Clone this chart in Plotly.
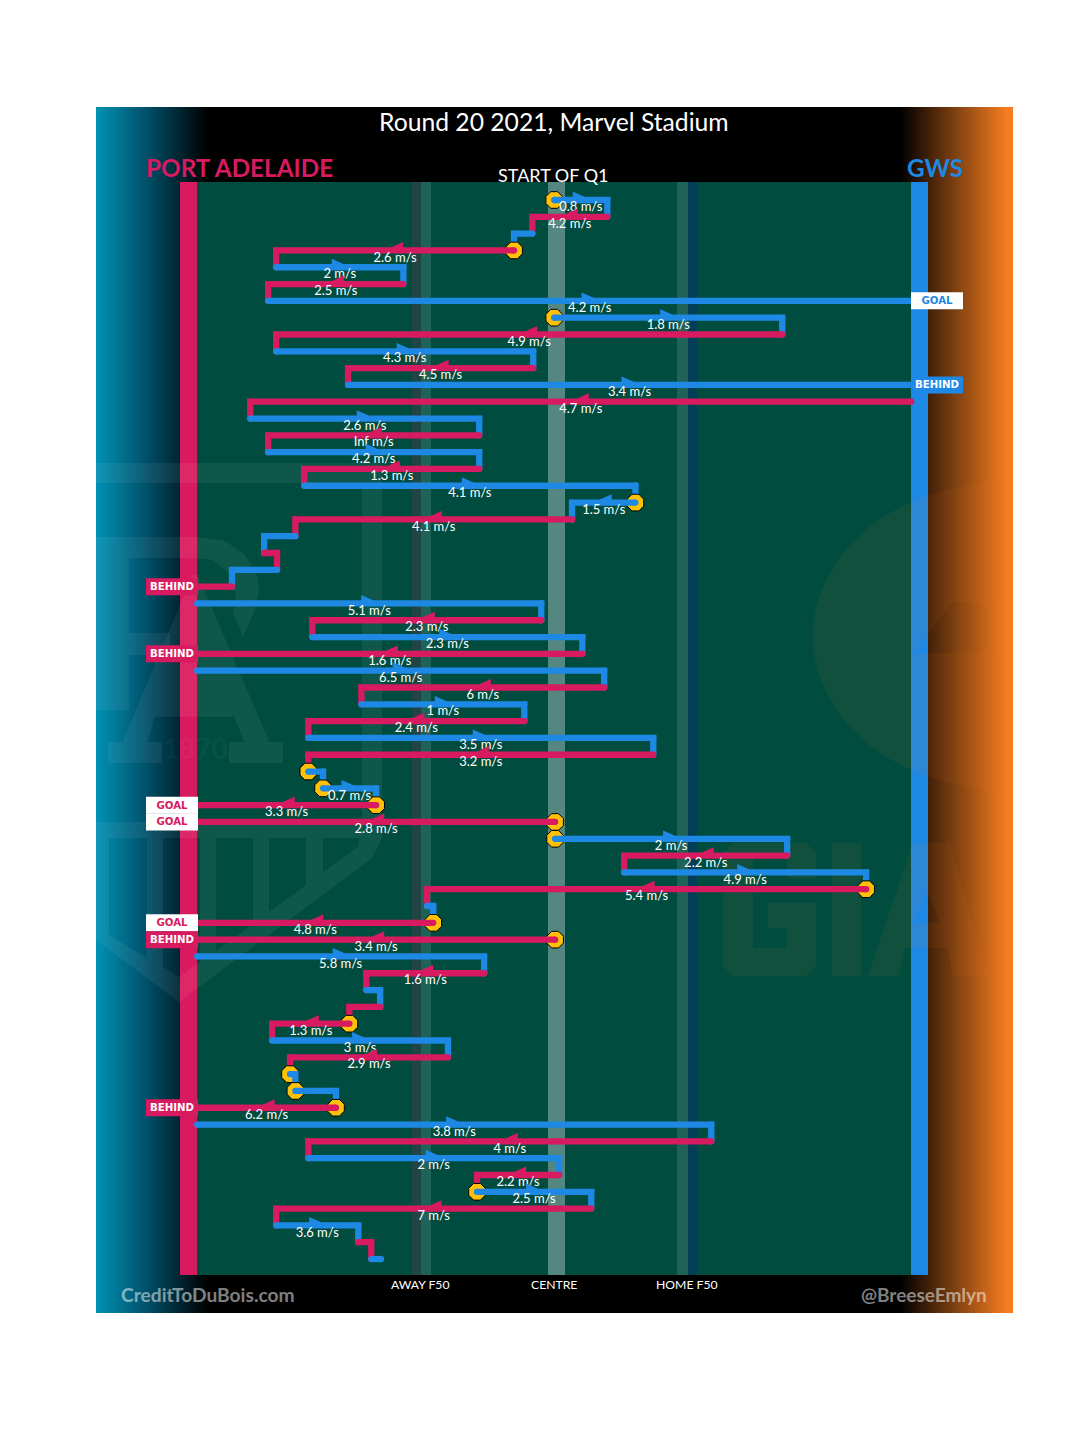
import numpy as np
import plotly.graph_objects as go

# ---- chain of play, one entry per row (x in metres from centre; + = GWS goal end)
row_team = ["GWS","PA","GWS","PA","GWS","PA","GWS","GWS","PA","GWS",
            "PA","GWS","PA","GWS","PA","GWS","PA","GWS","GWS","PA",
            "GWS","PA","GWS","PA","GWS","PA","GWS","PA","GWS","PA",
            "GWS","PA","GWS","PA","GWS","GWS","PA","PA","GWS","PA",
            "GWS","PA","GWS","PA","PA","GWS","PA","GWS","PA","PA",
            "GWS","PA","GWS","GWS","PA","GWS","PA","GWS","PA","GWS",
            "PA","GWS","PA","GWS"]
row_start = [0,11.9,-4.9,-9.0,-62.3,-33.8,-64.1,0,51.1,-62.3,
             -4.7,-46.2,80,-68.1,-16.8,-64.1,-16.8,-56.0,18.2,4.0,
             -58.0,-65.0,-62.1,-72.2,-80,-2.9,-54.2,6.3,-80,11.2,
             -43.2,-6.7,-55.1,22.2,-55.1,-51.8,-39.9,0.2,0.2,52.2,
             15.7,69.9,-28.5,-27.1,0.2,-80,-15.7,-42.1,-39.0,-45.9,
             -63.2,-23.8,-59.2,-58.0,-48.9,-80,35.2,-55.1,1.1,-17.3,
             8.3,-62.3,-43.9,-41.0]
row_end = [11.9,-4.9,-9.0,-62.3,-33.8,-64.1,80,51.1,-62.3,-4.7,
           -46.2,80,-68.1,-16.8,-64.1,-16.8,-56.0,18.2,4.0,-58.0,
           -65.0,-62.1,-72.2,-80,-2.9,-54.2,6.3,-80,11.2,-43.2,
           -6.7,-55.1,22.2,-55.1,-51.8,-39.9,-80,-80,52.2,15.7,
           69.9,-28.5,-27.1,-80,-80,-15.7,-42.1,-39.0,-45.9,-63.2,
           -23.8,-59.2,-58.0,-48.9,-80,35.2,-55.1,1.1,-17.3,8.3,
           -62.3,-43.9,-41.0,-38.8]
row_speed = ["0.8","4.2",None,"2.6","2","2.5","4.2","1.8","4.9","4.3",
             "4.5","3.4","4.7","2.6","Inf","4.2","1.3","4.1","1.5","4.1",
             None,None,None,None,"5.1","2.3","2.3","1.6","6.5","6",
             "1","2.4","3.5","3.2",None,"0.7","3.3","2.8","2","2.2",
             "4.9","5.4",None,"4.8","3.4","5.8","1.6",None,None,"1.3",
             "3","2.9",None,None,"6.2","3.8","4","2","2.2","2.5",
             "7","3.6",None,None]
row_stop = [0,3,7,18,34,35,36,37,38,41,43,44,49,52,53,54,59]
row_score = {6:"GOAL",11:"BEHIND",23:"BEHIND",27:"BEHIND",36:"GOAL",37:"GOAL",
             43:"GOAL",44:"BEHIND",54:"BEHIND"}
axis_labels = ["AWAY F50","CENTRE","HOME F50"]
axis_label_px = [420,554,687]

PINK, BLUE = "#D81B60", "#1E88E5"
YELLOW = "#FFC107"
team_col = {"PA":PINK,"GWS":BLUE}
FONT = "Lato"
W = "rgba(255,255,255,0.06)"
W2 = "rgba(245,124,32,0.07)"

# pixel helpers used only for the decoration drawn behind the chart
SX, SY = 4.4625, 16.81
X0, Y0 = 554.2, 200
mx = lambda p:(p-X0)/SX
ry = lambda p:(p-Y0)/SY

fig = go.Figure()

# background gradient
gx = np.linspace(mx(96),mx(1013),918)
stops = [(96,"#0091B4"),(146,"#005069"),(208,"#000000"),(900,"#000000"),(1006,"#F57C20"),(1013,"#F57C20")]
cs = [[(p-96)/917,c] for p,c in stops]
fig.add_trace(go.Heatmap(x=gx,y=[ry(107),ry(1313)],z=[gx,gx],colorscale=cs,showscale=False,hoverinfo="skip",
                         zmin=gx[0],zmax=gx[-1]))

def poly(pts,color):
    xs,ys=[],[]
    for ring in pts:
        xs+= [mx(p[0]) for p in ring]+[mx(ring[0][0]),None]
        ys+= [ry(p[1]) for p in ring]+[ry(ring[0][1]),None]
    fig.add_trace(go.Scatter(x=xs[:-1],y=ys[:-1],mode="lines",fill="toself",fillcolor=color,
                             line=dict(width=0,color=color),hoverinfo="skip",showlegend=False))
def rect(x0,x1,y0,y1,color):
    poly([[(x0,y0),(x1,y0),(x1,y1),(x0,y1)]],color)

# field, goal lines, bands
rect(197,911,182,1275,"#004D40")
rect(180,197,182,1275,PINK)
rect(911,928,182,1275,BLUE)
rect(548,565,182,1275,"rgba(255,255,255,0.33)")
rect(412,421,182,1275,"rgba(216,27,96,0.15)")
rect(421,431,182,1275,"rgba(255,255,255,0.12)")
rect(677,688,182,1275,"rgba(255,255,255,0.12)")
rect(688,697,182,1275,"#023E56")

# faint Port Adelaide crest
rect(96,382,463,483,W)
rect(362,382,483,822,W)
poly([[(96,537),(196,537),(225,541),(245,555),(257,575),(259,590),(255,610),(243,637),
       (233,613),(236,593),(229,573),(213,560),(196,558),(129,558),(129,710),(96,710)]],W)
rect(129,170,633,655,W)
ax=lambda z:96+z/3
ay=lambda z:440+z/3
poly([[(ax(80),ay(905)),(ax(290),ay(405)),(ax(305),ay(405)),(ax(520),ay(905)),(ax(445),ay(905)),
       (ax(415),ay(830)),(ax(175),ay(830)),(ax(155),ay(905))],
      [(ax(290),ay(560)),(ax(390),ay(765)),(ax(205),ay(765))]],W)
rect(108,162,742,763,W)
rect(229,283,742,763,W)
fig.add_trace(go.Scatter(x=[mx(195)],y=[ry(752)],mode="text",text=["1870"],hoverinfo="skip",showlegend=False,
    textposition="middle center",textfont=dict(family=FONT,size=28,weight="bold",color="rgba(255,255,255,0.04)")))
poly([[(96,822),(382,822),(382,838),(372,858),(179,1002),(96,940)],
      [(109,838),(109,935),(147,958),(147,838)],
      [(163,838),(163,967),(179,977),(200,962),(200,838)],
      [(216,838),(216,951),(253,924),(253,838)],
      [(269,838),(269,912),(306,885),(306,838)],
      [(323,838),(323,872),(359,846),(359,838)]],W)
# faint GWS crest
a=np.radians(np.linspace(90,270,61))
ell=[(1003+190*np.cos(t),636-153*np.sin(t)) for t in a]
top=[p for p in ell if p[1]<636]
bot=[p for p in ell if p[1]>=636]
poly([top+[(813,636)]+bot+[(1003,653),(914,653),(952,602),(1003,602)]],W2)
poly([[(733,843),(806,843),(816,853),(816,878),(787,878),(787,857),(753,857),(753,948),(787,948),(787,928),
       (768,928),(768,903),(816,903),(816,966),(806,976),(733,976),(723,966),(723,853)]],W2)
rect(832,861,843,976,W2)
poly([[(913,843),(950,843),(987,976),(953,976),(948,948),(905,948),(899,976),(868,976)],
      [(927,890),(913,923),(940,923)]],W2)

# play chain
n=len(row_team)
for i in range(n):
    c=team_col[row_team[i]]
    s,e=row_start[i],row_end[i]
    if i in row_stop:
        fig.add_trace(go.Scatter(x=[s],y=[i],mode="markers",hoverinfo="skip",showlegend=False,
            marker=dict(symbol="octagon",size=18,color=YELLOW,line=dict(color="black",width=1))))
    xs,ys=[s,e],[i,i]
    if i<n-1 and i not in row_score:
        xs.append(e);ys.append(i+1)
    fig.add_trace(go.Scatter(x=xs,y=ys,mode="lines+markers",hoverinfo="skip",showlegend=False,
        line=dict(color=c,width=6.3),marker=dict(color=c,size=6.3,line=dict(width=0))))
    if row_speed[i] is not None:
        m=(s+e)/2
        d=1 if e>s else -1
        fig.add_trace(go.Scatter(x=[m-d*1.8,m+d*2.0,m-d*1.8,m-d*1.8],y=[i-.5,i-.05,i,i-.5],mode="lines",fill="toself",
            fillcolor=c,line=dict(width=0,color=c),hoverinfo="skip",showlegend=False))
        fig.add_trace(go.Scatter(x=[m],y=[i+.47],mode="text",text=[row_speed[i]+" m/s"],hoverinfo="skip",showlegend=False,
            textposition="middle center",textfont=dict(family=FONT,size=13,color="white")))

# score tags
for i,lab in row_score.items():
    team=row_team[i]
    c=team_col[team]
    x0,x1=(146,198) if team=="PA" else (911,963)
    y=Y0+i*SY
    rect(x0,x1,y-8.5,y+8.5,"white" if lab=="GOAL" else c)
    fig.add_trace(go.Scatter(x=[mx((x0+x1)/2)],y=[i+.05],mode="text",text=[lab],hoverinfo="skip",showlegend=False,
        textposition="middle center",textfont=dict(family="DejaVu Sans",size=10.2,weight="bold",color=c if lab=="GOAL" else "white")))

def note(px,py,text,size,color,weight="normal",family=FONT,anchor="center"):
    fig.add_annotation(x=mx(px),y=ry(py),text=text,showarrow=False,xanchor=anchor,yanchor="middle",
        font=dict(family=family,size=size,color=color,weight=weight))

note(553.5,121,"Round 20 2021, Marvel Stadium",24.7,"white")
note(553,175,"START OF Q1",18,"white")
note(144,167,"PORT ADELAIDE",24.3,PINK,weight="bold",anchor="left")
note(965,167,"GWS",24.3,BLUE,weight="bold",anchor="right")
for lab,x in zip(axis_labels,axis_label_px):
    note(x,1284,lab,12.2,"white")
note(119,1294,"CreditToDuBois.com",19.2,"rgba(255,255,255,0.5)",weight="bold",anchor="left")
note(989,1294,"@BreeseEmlyn",19,"rgba(255,255,255,0.5)",weight="bold",anchor="right")

fig.update_layout(width=1064,height=1419,autosize=False,showlegend=False,
    margin=dict(l=88,r=59,t=99,b=114,pad=0),paper_bgcolor="white",plot_bgcolor="black",
    xaxis=dict(range=[mx(96),mx(1013)],visible=False,fixedrange=True),
    yaxis=dict(range=[ry(1313),ry(107)],visible=False,fixedrange=True))
fig.write_html("out.html")
